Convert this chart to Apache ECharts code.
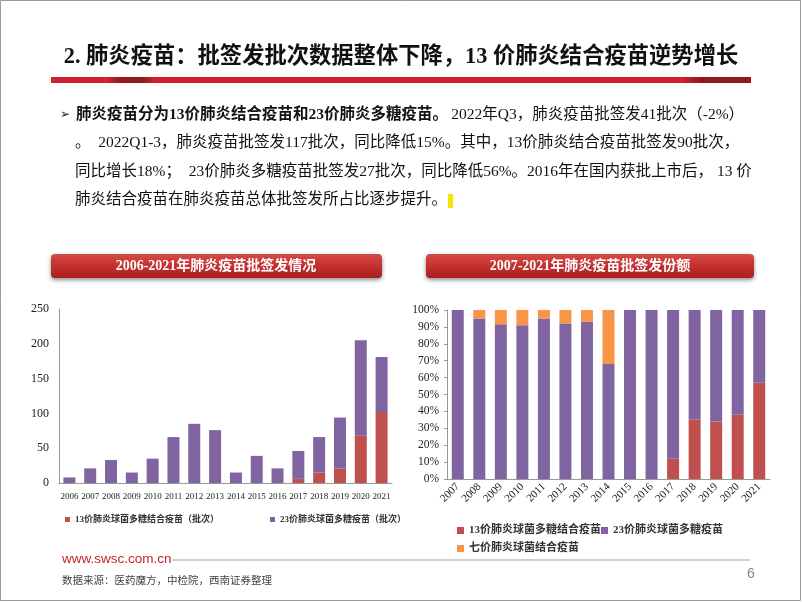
<!DOCTYPE html>
<html>
<head>
<meta charset="utf-8">
<script src="https://cdn.jsdelivr.net/npm/echarts@6/dist/echarts.min.js"></script>
<style>html,body{margin:0;padding:0;background:#fff;}#c{width:802px;height:602px;}</style>
</head>
<body>
<div id="c"></div>
<script>
// ---- data ----
const yearsCount = ['2006','2007','2008','2009','2010','2011','2012','2013','2014','2015','2016','2017','2018','2019','2020','2021'];
const pcv13Count = [0,0,0,0,0,0,0,0,0,0,0,6,15,21,68,102];
const ppv23Count = [8,21,33,15,35,66,85,76,15,39,21,40,51,73,137,79];

const yearsShare = ['2007','2008','2009','2010','2011','2012','2013','2014','2015','2016','2017','2018','2019','2020','2021'];
const pcv13Share = [0,0,0,0,0,0,0,0,0,0,12,35,34,38,57];
const ppv23Share = [100,95,91.5,91,95,92,93,68,100,100,88,65,66,62,43];
const pcv7Share  = [0,5,8.5,9,5,8,7,32,0,0,0,0,0,0,0];

const leftNames = ['13价肺炎球菌多糖结合疫苗（批次）','23价肺炎球菌多糖疫苗（批次）'];
const rightNames = ['13价肺炎球菌多糖结合疫苗','23价肺炎球菌多糖疫苗','七价肺炎球菌结合疫苗'];

const RED = '#C0504D', PURPLE = '#8064A2', ORANGE = '#F79646';
const SERIF = '"Liberation Serif","Times New Roman","Noto Sans CJK SC",serif';

const chart = echarts.init(document.getElementById('c'), null, {renderer:'canvas'});

function boxGrad(){ return new echarts.graphic.LinearGradient(0,0,0,1,[
  {offset:0,color:'#D44A47'},{offset:0.5,color:'#C4302E'},{offset:1,color:'#A81E20'}]); }
const lineFill = new echarts.graphic.LinearGradient(0,0,1,0,[
  {offset:0,color:'#D0222A'},{offset:0.08,color:'#D0222A'},{offset:0.1,color:'#8E1A1C'},{offset:0.13,color:'#8E1A1C'},
  {offset:0.15,color:'#D0222A'},{offset:0.9,color:'#D0222A'},{offset:0.93,color:'#8E1A1C'},{offset:1,color:'#8E1A1C'}]);

const bodyStyle = {fontSize:15.5, fontFamily:SERIF, fill:'#111'};

option = {
  animation:false,
  backgroundColor:'#fff',
  textStyle:{fontFamily:SERIF},
  graphic:[
    {type:'rect', shape:{x:0.5,y:0.5,width:800,height:600}, style:{fill:'none',stroke:'#9a9a9a',lineWidth:1}, silent:true},
    {type:'text', left:'center', top:46, style:{text:'2. 肺炎疫苗：批签发批次数据整体下降，13 价肺炎结合疫苗逆势增长', font:'bold 22.3px '+SERIF, fill:'#111'}},
    {type:'rect', shape:{x:51,y:77,width:700,height:6}, style:{fill:lineFill}},
    {type:'text', x:60, y:109, style:{text:'➢', font:'12px "DejaVu Sans"', fill:'#222'}},
    {type:'text', x:76, y:107, style:{
      text:'{b|肺炎疫苗分为13价肺炎结合疫苗和23价肺炎多糖疫苗。} {n|2022年Q3，肺炎疫苗批签发41批次（-2%）}',
      rich:{b:{fontSize:15.5,fontWeight:'bold',fontFamily:SERIF,fill:'#111'}, n:{fontSize:15.5,fontFamily:SERIF,fill:'#111'}}}},
    {type:'text', x:75, y:135, style:Object.assign({text:'。  2022Q1-3，肺炎疫苗批签发117批次，同比降低15%。其中，13价肺炎结合疫苗批签发90批次，'},bodyStyle)},
    {type:'text', x:75, y:164, style:Object.assign({text:'同比增长18%；  23价肺炎多糖疫苗批签发27批次，同比降低56%。2016年在国内获批上市后， 13 价'},bodyStyle)},
    {type:'text', x:75, y:192, style:Object.assign({text:'肺炎结合疫苗在肺炎疫苗总体批签发所占比逐步提升。'},bodyStyle)},
    {type:'rect', shape:{x:448,y:194,width:5,height:14}, style:{fill:'#F2E600'}},
    {type:'rect', shape:{x:51,y:254,width:331,height:24,r:4}, style:{fill:boxGrad(), shadowBlur:4, shadowOffsetY:2, shadowColor:'rgba(0,0,0,0.45)'}},
    {type:'text', x:216, y:266, style:{text:'2006-2021年肺炎疫苗批签发情况', font:'bold 14px '+SERIF, fill:'#fff', textAlign:'center', textVerticalAlign:'middle'}},
    {type:'rect', shape:{x:426,y:254,width:328,height:24,r:4}, style:{fill:boxGrad(), shadowBlur:4, shadowOffsetY:2, shadowColor:'rgba(0,0,0,0.45)'}},
    {type:'text', x:590, y:266, style:{text:'2007-2021年肺炎疫苗批签发份额', font:'bold 14px '+SERIF, fill:'#fff', textAlign:'center', textVerticalAlign:'middle'}},
    {type:'text', x:62, y:552, style:{text:'www.swsc.com.cn', font:'13.5px "Liberation Sans",Arial,sans-serif', fill:'#C3262E'}},
    {type:'line', shape:{x1:172,y1:560,x2:750,y2:560}, style:{stroke:'#a0a0a0',lineWidth:1}},
    {type:'text', x:62, y:576, style:{text:'数据来源：医药魔方，中检院，西南证券整理', font:'10.5px '+SERIF, fill:'#444'}},
    {type:'text', x:747, y:567, style:{text:'6', font:'14px "Liberation Sans",sans-serif', fill:'#888'}}
  ],
  legend:[
    {data:[leftNames[0]], left:60, top:510, itemWidth:5, itemHeight:5, icon:'rect', itemGap:5, textStyle:{fontSize:9,fontWeight:'bold',color:'#333',fontFamily:SERIF}},
    {data:[leftNames[1]], left:265, top:510, itemWidth:5, itemHeight:5, icon:'rect', itemGap:5, textStyle:{fontSize:9,fontWeight:'bold',color:'#333',fontFamily:SERIF}},
    {data:[rightNames[0]], left:452, top:520, itemWidth:7, itemHeight:7, icon:'rect', textStyle:{fontSize:11,fontWeight:'bold',color:'#333',fontFamily:SERIF}},
    {data:[rightNames[1]], left:596, top:520, itemWidth:7, itemHeight:7, icon:'rect', textStyle:{fontSize:11,fontWeight:'bold',color:'#333',fontFamily:SERIF}},
    {data:[rightNames[2]], left:452, top:538, itemWidth:7, itemHeight:7, icon:'rect', textStyle:{fontSize:11,fontWeight:'bold',color:'#333',fontFamily:SERIF}}
  ],
  grid:[
    {left:59, top:309, width:333, height:174},
    {left:447, top:310, width:323, height:169}
  ],
  xAxis:[
    {type:'category', gridIndex:0, data:yearsCount, axisLine:{lineStyle:{color:'#999'}}, axisTick:{show:false},
     axisLabel:{interval:0, fontSize:9, color:'#222', margin:9, fontFamily:SERIF}},
    {type:'category', gridIndex:1, data:yearsShare, axisLine:{lineStyle:{color:'#999'}}, axisTick:{show:false},
     axisLabel:{interval:0, rotate:45, fontSize:11, color:'#222', margin:6, fontFamily:SERIF}}
  ],
  yAxis:[
    {type:'value', gridIndex:0, min:0, max:250, interval:50, axisLine:{show:true,lineStyle:{color:'#999'}}, axisTick:{show:false}, splitLine:{show:false},
     axisLabel:{fontSize:12, color:'#222', margin:10, fontFamily:SERIF}},
    {type:'value', gridIndex:1, min:0, max:100, interval:10, axisLine:{show:true,lineStyle:{color:'#999'}}, axisTick:{show:true,length:3,lineStyle:{color:'#999'}}, splitLine:{show:false},
     axisLabel:{fontSize:11.5, color:'#222', margin:8, formatter:'{value}%', fontFamily:SERIF}}
  ],
  series:[
    {name:leftNames[0], type:'bar', stack:'a', xAxisIndex:0, yAxisIndex:0, data:pcv13Count, barWidth:12, itemStyle:{color:RED}},
    {name:leftNames[1], type:'bar', stack:'a', xAxisIndex:0, yAxisIndex:0, data:ppv23Count, barWidth:12, itemStyle:{color:PURPLE}},
    {name:rightNames[0], type:'bar', stack:'b', xAxisIndex:1, yAxisIndex:1, data:pcv13Share, barWidth:12, itemStyle:{color:RED}},
    {name:rightNames[1], type:'bar', stack:'b', xAxisIndex:1, yAxisIndex:1, data:ppv23Share, barWidth:12, itemStyle:{color:PURPLE}},
    {name:rightNames[2], type:'bar', stack:'b', xAxisIndex:1, yAxisIndex:1, data:pcv7Share, barWidth:12, itemStyle:{color:ORANGE}}
  ]
};
chart.setOption(option);
</script>
</body>
</html>
